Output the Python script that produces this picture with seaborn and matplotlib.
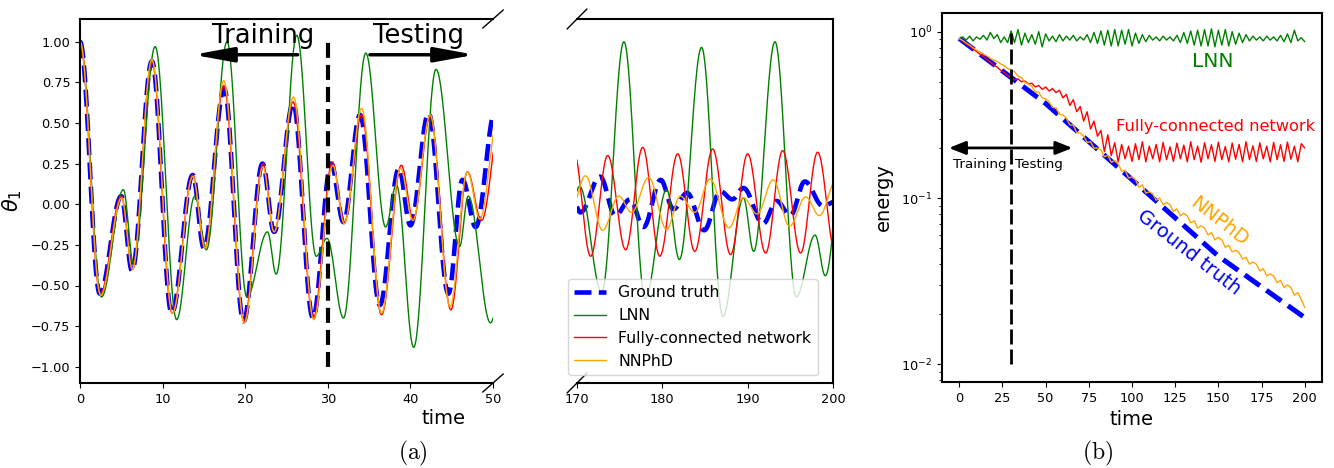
import numpy as np
import matplotlib
matplotlib.use("Agg")
import matplotlib.pyplot as plt
import seaborn as sns
from matplotlib.patches import ArrowStyle

# ---------------- panel (a), left part: theta_1 turning points, t in [0, 50] ----------------
gt_a_t = [0.0, 2.4, 5.0, 6.3, 8.7, 11.1, 13.65, 15.0, 17.45, 19.8, 22.1, 23.5, 25.8, 28.2,
          30.4, 31.9, 33.9, 36.3, 38.6, 40.0, 42.2, 44.6, 46.3, 47.9, 50.3]
gt_a_v = [1.00, -0.55, 0.05, -0.41, 0.88, -0.67, 0.18, -0.27, 0.71, -0.72, 0.25, -0.17, 0.62, -0.70,
          0.25, -0.11, 0.55, -0.62, 0.22, -0.13, 0.56, -0.55, 0.15, -0.14, 0.58]

lnn_a_t = [0.0, 2.6, 5.25, 6.45, 9.1, 11.7, 13.9, 15.3, 17.8, 20.2, 22.7, 23.75, 26.25, 28.6,
           29.9, 31.9, 34.6, 37.0, 38.3, 40.4, 43.1, 45.95, 47.0, 49.7, 51.5]
lnn_a_v = [1.00, -0.57, 0.09, -0.36, 0.97, -0.71, 0.05, -0.28, 1.00, -0.57, -0.17, -0.43, 1.04, -0.32,
           -0.21, -0.70, 0.93, -0.14, 0.12, -0.88, 0.83, -0.26, 0.05, -0.73, -0.30]

fc_a_t = [0.0, 2.45, 5.0, 6.35, 8.7, 11.15, 13.65, 15.1, 17.4, 19.85, 22.15, 23.5, 25.8, 28.25,
          30.55, 32.0, 34.1, 36.5, 38.9, 40.35, 42.4, 44.9, 46.9, 48.6, 51.0]
fc_a_v = [1.00, -0.55, 0.05, -0.40, 0.88, -0.67, 0.18, -0.27, 0.73, -0.72, 0.25, -0.17, 0.63, -0.70,
          0.26, -0.11, 0.55, -0.68, 0.24, -0.09, 0.54, -0.65, 0.20, -0.10, 0.55]

nnphd_a_t = [0.0, 2.5, 5.05, 6.35, 8.7, 11.2, 13.65, 15.15, 17.4, 19.9, 22.15, 23.5, 25.85, 28.3,
             30.6, 32.0, 34.1, 36.5, 38.8, 40.3, 42.4, 44.8, 46.9, 48.4, 50.7]
nnphd_a_v = [1.00, -0.56, 0.04, -0.40, 0.89, -0.67, 0.17, -0.27, 0.76, -0.73, 0.23, -0.17, 0.66, -0.71,
             0.24, -0.12, 0.59, -0.67, 0.22, -0.10, 0.55, -0.63, 0.20, -0.09, 0.56]

# ---------------- panel (a), right part: t in [170, 200] ----------------
gt_b_t = [169.5, 170.4, 172.7, 174.5, 176.2, 177.8, 179.8, 181.3, 182.9, 184.9, 186.8, 188.2,
          189.5, 191.8, 193.4, 195.0, 196.7, 198.8, 200.5]
gt_b_v = [0.03, -0.05, 0.17, -0.07, 0.03, -0.14, 0.15, -0.03, 0.07, -0.16, 0.08, 0.03,
          0.10, -0.12, 0.02, -0.07, 0.14, -0.01, 0.02]

lnn_b_t = [169.4, 170.3, 172.9, 175.5, 178.0, 180.5, 182.0, 184.6, 187.1, 189.5, 190.7, 193.2,
           195.7, 197.9, 199.1, 201.2]
lnn_b_v = [0.0, 0.11, -0.54, 1.00, -0.58, 0.09, -0.34, 0.965, -0.69, 0.04, -0.29, 1.00,
           -0.57, -0.19, -0.44, 0.30]

fc_b_t = [169.6, 171.6, 173.6, 175.7, 177.7, 179.7, 181.8, 183.8, 185.9, 188.0, 190.0, 192.1,
          194.1, 196.2, 198.2, 200.3]
fc_b_v = [0.33, -0.32, 0.30, -0.28, 0.35, -0.32, 0.31, -0.29, 0.34, -0.31, 0.31, -0.30,
          0.33, -0.30, 0.32, -0.30]

nnphd_b_t = [169.2, 171.0, 173.0, 174.9, 176.4, 178.4, 180.5, 182.1, 183.8, 185.6, 187.8, 189.5,
             191.1, 193.0, 194.9, 196.8, 198.4, 200.4]
nnphd_b_v = [-0.05, 0.175, -0.16, 0.05, -0.05, 0.165, -0.155, 0.05, -0.05, 0.155, -0.145, 0.04,
             -0.06, 0.15, -0.135, 0.045, -0.07, 0.15]

# ---------------- panel (b): energy, sampled every 2 time units from 0 to 200 ----------------
gt_e_t = [0, 50, 100, 150, 200]
gt_e_v = [0.91, 0.37, 0.129, 0.0447, 0.0191]

lnn_e = [0.91, 0.93, 0.89, 0.94, 0.88, 0.93, 0.90, 0.95, 0.89, 0.99,
         0.91, 0.96, 0.86, 0.93, 0.86, 1.01, 0.86, 1.03, 0.83, 0.98,
         0.86, 0.96, 0.84, 1.00, 0.81, 0.97, 0.88, 0.94, 0.87, 0.96,
         0.88, 0.94, 0.89, 0.95, 0.88, 0.93, 0.89, 0.96, 0.86, 0.99,
         0.85, 1.01, 0.83, 1.02, 0.82, 1.03, 0.82, 1.02, 0.84, 1.03,
         0.82, 0.98, 0.85, 0.96, 0.87, 0.95, 0.89, 0.93, 0.88, 0.94,
         0.89, 0.93, 0.88, 0.95, 0.86, 0.99, 0.85, 1.01, 0.83, 1.02,
         0.82, 1.03, 0.82, 1.04, 0.81, 1.02, 0.83, 1.03, 0.82, 1.00,
         0.84, 0.98, 0.86, 0.96, 0.88, 0.94, 0.89, 0.93, 0.88, 0.94,
         0.89, 0.93, 0.88, 0.95, 0.87, 0.97, 0.86, 1.02, 0.88, 0.92,
         0.87]

fc_e = [0.91, 0.88, 0.845, 0.82, 0.785, 0.76, 0.73, 0.708, 0.678, 0.658,
        0.63, 0.612, 0.585, 0.57, 0.544, 0.53, 0.515, 0.52, 0.50, 0.505,
        0.485, 0.49, 0.465, 0.475, 0.45, 0.465, 0.44, 0.455, 0.43, 0.445,
        0.40, 0.42, 0.36, 0.39, 0.33, 0.355, 0.29, 0.33, 0.26, 0.29,
        0.235, 0.255, 0.19, 0.24, 0.18, 0.215, 0.165, 0.21, 0.172, 0.205,
        0.166, 0.212, 0.17, 0.218, 0.165, 0.205, 0.172, 0.21, 0.165, 0.216,
        0.17, 0.203, 0.166, 0.214, 0.172, 0.208, 0.165, 0.218, 0.17, 0.205,
        0.164, 0.215, 0.172, 0.209, 0.166, 0.217, 0.17, 0.204, 0.165, 0.214,
        0.171, 0.21, 0.165, 0.218, 0.17, 0.206, 0.166, 0.215, 0.172, 0.205,
        0.165, 0.216, 0.17, 0.209, 0.166, 0.217, 0.171, 0.205, 0.165, 0.212,
        0.20]

nnphd_e = [0.91, 0.885, 0.855, 0.83, 0.80, 0.775, 0.755, 0.73, 0.715, 0.69,
           0.675, 0.66, 0.64, 0.625, 0.60, 0.59, 0.575, 0.54, 0.53, 0.495,
           0.485, 0.47, 0.435, 0.432, 0.40, 0.395, 0.38, 0.35, 0.348, 0.318,
           0.316, 0.302, 0.275, 0.274, 0.247, 0.246, 0.236, 0.216, 0.218, 0.199,
           0.20, 0.194, 0.177, 0.181, 0.164, 0.168, 0.16, 0.145, 0.147, 0.132,
           0.134, 0.129, 0.116, 0.12, 0.107, 0.109, 0.106, 0.097, 0.10, 0.091,
           0.094, 0.091, 0.083, 0.086, 0.078, 0.081, 0.078, 0.071, 0.073, 0.066,
           0.068, 0.066, 0.06, 0.062, 0.056, 0.058, 0.056, 0.0505, 0.052, 0.0475,
           0.0485, 0.047, 0.043, 0.044, 0.040, 0.0412, 0.040, 0.0365, 0.0375, 0.034,
           0.035, 0.034, 0.031, 0.032, 0.029, 0.030, 0.029, 0.026, 0.027, 0.0245,
           0.022]
energy_t = np.arange(0, 201, 2)

series_names = ["Ground truth", "LNN", "Fully-connected network", "NNPhD"]
series_colors = ["blue", "green", "red", "orange"]


def through_turning_points(tk, vk, step=0.02):
    """Smooth swing between successive maxima / minima (half a cosine per swing)."""
    tk = np.asarray(tk, float)
    vk = np.asarray(vk, float)
    t = np.arange(tk[0], tk[-1] + step / 2, step)
    i = np.clip(np.searchsorted(tk, t, side="right") - 1, 0, len(tk) - 2)
    s = (t - tk[i]) / (tk[i + 1] - tk[i])
    w = (1 - np.cos(np.pi * s)) / 2
    return t, vk[i] + (vk[i + 1] - vk[i]) * w


sns.set_style("ticks")
plt.rcParams.update({
    "font.family": ["DejaVu Sans"],
    "axes.edgecolor": "black",
    "axes.labelcolor": "black",
    "text.color": "black",
    "xtick.color": "black",
    "ytick.color": "black",
    "axes.linewidth": 1.5,
    "xtick.labelsize": 9.3,
    "ytick.labelsize": 9.3,
    "axes.unicode_minus": True,
    "mathtext.fontset": "dejavusans",
})

W, H = 1334, 468
fig = plt.figure(figsize=(W / 100, H / 100), dpi=100)
ax1 = fig.add_axes([80 / W, 1 - 383 / H, 413 / W, 364 / H])
ax2 = fig.add_axes([577 / W, 1 - 383 / H, 256 / W, 364 / H])
ax3 = fig.add_axes([942 / W, 1 - 382 / H, 380 / W, 369 / H])

gt_dash = (0, (3.7, 1.6))


def line(ax, t, v, color, lw, ls="-", label=None):
    sns.lineplot(x=t, y=v, ax=ax, color=color, lw=lw, linestyle=ls, label=label,
                 legend=False, estimator=None, sort=False)


# ---- theta_1, t in [0, 50] ----
left_sets = [(gt_a_t, gt_a_v), (lnn_a_t, lnn_a_v), (fc_a_t, fc_a_v), (nnphd_a_t, nnphd_a_v)]
for (tk, vk), c, name in zip(left_sets, series_colors, series_names):
    t, v = through_turning_points(tk, vk)
    if name == "Ground truth":
        line(ax1, t, v, c, 3.3, gt_dash)
    else:
        line(ax1, t, v, c, 1.0)

ax1.vlines(30, -1.0, 1.0, colors="black", lw=3, linestyles=[(0, (3.6, 1.7))], zorder=4)
ax1.set_xlim(0, 50)
ax1.set_ylim(-1.1, 1.14)
ax1.set_xticks([0, 10, 20, 30, 40, 50])
ax1.set_yticks([-1.0, -0.75, -0.5, -0.25, 0.0, 0.25, 0.5, 0.75, 1.0])
ax1.yaxis.set_major_formatter(
    matplotlib.ticker.FuncFormatter(lambda y, _: f"{y:.2f}".replace("-", "\u2212")))
ax1.spines["right"].set_visible(False)
ax1.set_xlabel("")
ax1.set_ylabel(r"$\theta_1$", fontsize=15)
ax1.yaxis.set_label_coords(-0.135, 0.5)

ax1.text(22.15, 0.99, "Training", fontsize=18.5, ha="center", va="baseline")
ax1.text(40.96, 0.99, "Testing", fontsize=18.5, ha="center", va="baseline")
big_head = ArrowStyle("-|>", head_length=1.2, head_width=0.22)
ax1.annotate("", xy=(13.7, 0.92), xytext=(26.35, 0.92),
             arrowprops=dict(arrowstyle=big_head, lw=2.5, color="black",
                             mutation_scale=20, shrinkA=0, shrinkB=0))
ax1.annotate("", xy=(47.8, 0.92), xytext=(35.1, 0.92),
             arrowprops=dict(arrowstyle=big_head, lw=2.5, color="black",
                             mutation_scale=20, shrinkA=0, shrinkB=0))

# ---- theta_1, t in [170, 200] ----
mid_sets = [(gt_b_t, gt_b_v), (lnn_b_t, lnn_b_v), (fc_b_t, fc_b_v), (nnphd_b_t, nnphd_b_v)]
for (tk, vk), c, name in zip(mid_sets, series_colors, series_names):
    t, v = through_turning_points(tk, vk)
    if name == "Ground truth":
        line(ax2, t, v, c, 3.3, gt_dash, label=name)
    else:
        line(ax2, t, v, c, 1.0, label=name)

ax2.set_xlim(170, 200)
ax2.set_ylim(-1.1, 1.14)
ax2.set_xticks([170, 180, 190, 200])
ax2.spines["left"].set_visible(False)
ax2.tick_params(axis="y", left=False, labelleft=False)
ax2.set_xlabel("")
ax2.set_ylabel("")
ax2.legend(loc="lower left", bbox_to_anchor=(-0.035, 0.022), borderaxespad=0,
           fontsize=11.3, framealpha=0.8)

# broken-axis marks
mk = dict(color="black", clip_on=False, lw=1)
ax1.plot([0.975, 1.025], [0.975, 1.025], transform=ax1.transAxes, **mk)
ax1.plot([0.975, 1.025], [-0.025, 0.025], transform=ax1.transAxes, **mk)
ax2.plot([-0.039, 0.039], [0.9725, 1.0275], transform=ax2.transAxes, **mk)
ax2.plot([-0.039, 0.039], [-0.0275, 0.0275], transform=ax2.transAxes, **mk)

fig.text(443 / W, 1 - 418 / H, "time", fontsize=14, ha="center", va="center")

# ---- energy ----
line(ax3, gt_e_t, gt_e_v, "blue", 3.6, gt_dash)
line(ax3, energy_t, lnn_e, "green", 1.0)
line(ax3, energy_t, fc_e, "red", 1.0)
line(ax3, energy_t, nnphd_e, "orange", 1.0)
ax3.set_yscale("log")
ax3.vlines(30, 0.01, 0.98, colors="black", lw=2, linestyles=[(0, (5.4, 1.8))], zorder=4)
ax3.set_xlim(-10, 210)
ax3.set_ylim(0.00783, 1.295)
ax3.set_xticks([0, 25, 50, 75, 100, 125, 150, 175, 200])
ax3.set_xlabel("time", fontsize=14)
ax3.set_ylabel("energy", fontsize=14)
ax3.yaxis.set_label_coords(-0.129, 0.5)

small_head = ArrowStyle("<|-|>", head_length=1.0, head_width=0.4)
ax3.annotate("", xy=(65.5, 0.2), xytext=(-6, 0.2),
             arrowprops=dict(arrowstyle=small_head, lw=2, color="black",
                             mutation_scale=10, shrinkA=0, shrinkB=0))
ax3.text(27.3, 0.158, "Training", fontsize=9.7, ha="right", va="center")
ax3.text(32.5, 0.158, "Testing", fontsize=9.7, ha="left", va="center")
ax3.text(147, 0.66, "LNN", fontsize=14.5, color="green", ha="center", va="center")
ax3.text(148.3, 0.268, "Fully-connected network", fontsize=11.7, color="red",
         ha="center", va="center")
ax3.text(150.2, 0.072, "NNPhD", fontsize=14, color="orange", ha="center", va="center",
         rotation=-38, rotation_mode="anchor")
ax3.text(133.2, 0.0471, "Ground truth", fontsize=14, color="blue", ha="center", va="center",
         rotation=-38, rotation_mode="anchor")

fig.text(413 / W, 1 - 453 / H, r"$\mathrm{(a)}$", fontsize=17, ha="center", va="center",
         math_fontfamily="cm")
fig.text(1098 / W, 1 - 453 / H, r"$\mathrm{(b)}$", fontsize=17, ha="center", va="center",
         math_fontfamily="cm")

fig.savefig("out.png", dpi=100)
